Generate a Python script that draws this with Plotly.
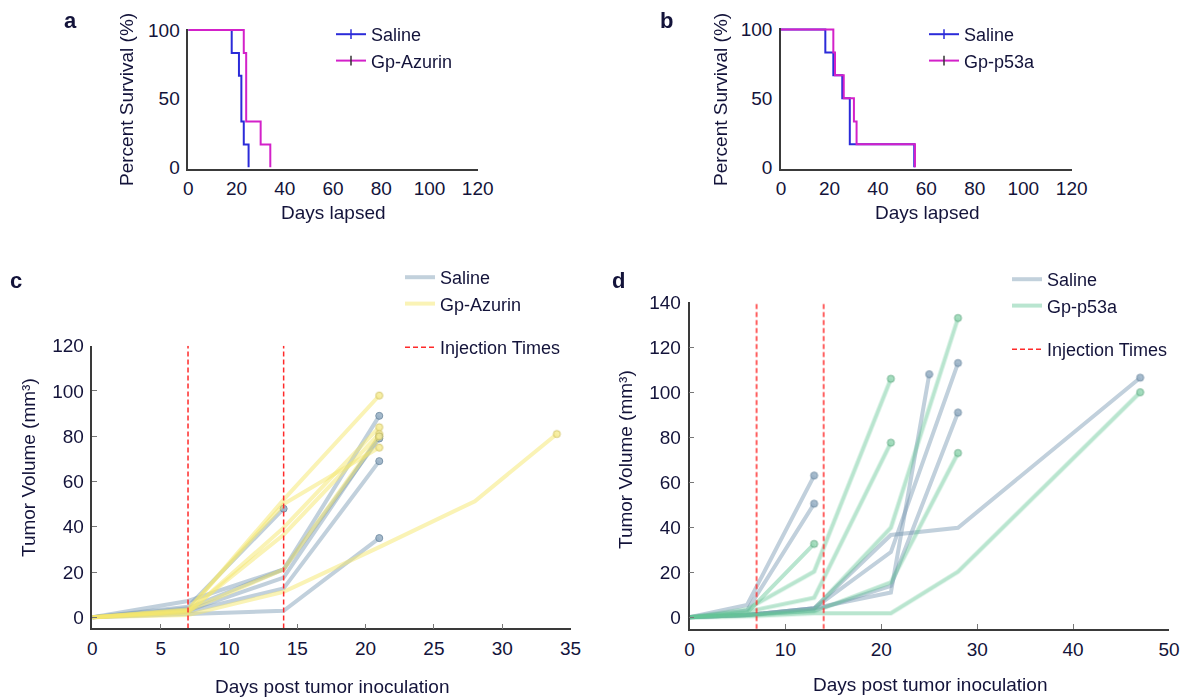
import plotly.graph_objects as go

# ---------------- Data ----------------
# Panel a: Kaplan-Meier survival (Saline vs Gp-Azurin)
a_saline_days = [0, 18, 21, 22, 23, 25]
a_saline_surv = [100, 83.3, 66.7, 33.3, 16.7, 0]
a_azurin_days = [0, 23, 24, 30, 34]
a_azurin_surv = [100, 83.3, 33.3, 16.7, 0]

# Panel b: Kaplan-Meier survival (Saline vs Gp-p53a)
b_saline_days = [0, 18.3, 21.6, 25.3, 28.4, 55]
b_saline_surv = [100, 83.3, 66.7, 50, 16.7, 0]
b_p53a_days = [0, 21.6, 22.3, 25.9, 30.1, 31.2, 55.3]
b_p53a_surv = [100, 83.3, 66.7, 50, 33.3, 16.7, 0]

surv_yticks = [0, 50, 100]
surv_xticks = [0, 20, 40, 60, 80, 100, 120]

# Panel c: tumor volume, Saline vs Gp-Azurin (one list per mouse)
c_saline_days = [[0, 7, 14], [0, 7, 14, 21], [0, 7, 14, 21],
                 [0, 7, 14, 21], [0, 7, 14, 21], [0, 7, 14, 21]]
c_saline_vol = [[0, 4.7, 48], [0, 1.5, 2.9, 35], [0, 7.2, 21.2, 89],
                [0, 3, 17.5, 80], [0, 2.5, 12.8, 69], [0, 4, 21.2, 79]]
c_azurin_days = [[0, 7, 14, 21], [0, 7, 14, 21], [0, 7, 14, 21],
                 [0, 7, 14, 21], [0, 7, 14, 21], [0, 7, 14, 21, 28, 34]]
c_azurin_vol = [[0, 3, 52, 98], [0, 3.5, 50, 75], [0, 2, 39.6, 84],
                [0, 2.5, 36.5, 81], [0, 3, 21.2, 80], [0, 1, 11.3, 31, 51.3, 81]]
c_injection_days = [7, 14]
c_xticks = [0, 5, 10, 15, 20, 25, 30, 35]
c_yticks = [0, 20, 40, 60, 80, 100, 120]

# Panel d: tumor volume, Saline vs Gp-p53a
d_saline_days = [[0, 6, 13], [0, 6, 13], [0, 6, 13, 21, 25],
                 [0, 6, 13, 21, 28], [0, 6, 13, 21, 28], [0, 6, 13, 21, 28, 47]]
d_saline_vol = [[0, 5.5, 63], [0, 3, 50.5], [0, 1, 4, 11, 108],
                [0, 1, 4, 29, 113], [0, 1, 3, 14, 91], [0, 1, 4, 36.6, 39.8, 106.5]]
d_p53a_days = [[0, 6, 13], [0, 6, 13, 21], [0, 6, 13, 21],
               [0, 6, 13, 21, 28], [0, 6, 13, 21, 28], [0, 6, 13, 21, 28, 47]]
d_p53a_vol = [[0, 2, 32.6], [0, 3.6, 20.3, 106], [0, 2.5, 8.7, 77.6],
              [0, 1, 3.5, 39.8, 133], [0, 1, 2.5, 15.5, 73], [0, 0.5, 1.8, 1.8, 20.3, 100]]
d_injection_days = [7, 14]
d_xticks = [0, 10, 20, 30, 40, 50]
d_yticks = [0, 20, 40, 60, 80, 100, 120, 140]

# ---------------- Style ----------------
FONT = "Liberation Sans"
TXT = "#13133a"
BLUE = "#2b2bd9"
MAGENTA = "#d321c9"
SAL = "rgb(120,152,178)"
SAL_M = "rgb(150,175,196)"
SAL_ML = "rgb(100,130,155)"
YEL = "rgb(246,232,110)"
YEL_M = "rgb(246,236,150)"
YEL_ML = "rgb(205,190,90)"
GRN = "rgb(100,198,150)"
GRN_M = "rgb(150,215,180)"
GRN_ML = "rgb(90,165,125)"
RED = "#ff2a2a"

fig = go.Figure()


def km(days, surv, color, name, xa, ya, legend, tickcolor):
    fig.add_trace(go.Scatter(x=days, y=surv, mode="lines", line=dict(color=color, width=2, shape="hv"),
                             xaxis=xa, yaxis=ya, showlegend=False, hoverinfo="skip"))
    fig.add_trace(go.Scatter(x=[None], y=[None], mode="lines+markers", name=name,
                             line=dict(color=color, width=2),
                             marker=dict(symbol="line-ns", size=7,
                                         line=dict(color=tickcolor, width=1.5)),
                             xaxis=xa, yaxis=ya, legend=legend))


km(a_saline_days, a_saline_surv, BLUE, "Saline", "x", "y", "legend", BLUE)
km(a_azurin_days, a_azurin_surv, MAGENTA, "Gp-Azurin", "x", "y", "legend", "#333333")
km(b_saline_days, b_saline_surv, BLUE, "Saline", "x2", "y2", "legend2", BLUE)
km(b_p53a_days, b_p53a_surv, MAGENTA, "Gp-p53a", "x2", "y2", "legend2", "#333333")


def mice(days_list, vol_list, color, mcol, mline, name, xa, ya, legend, op):
    for dd, vv in zip(days_list, vol_list):
        fig.add_trace(go.Scatter(x=dd, y=vv, mode="lines", line=dict(color=color, width=4),
                                 opacity=op, xaxis=xa, yaxis=ya, showlegend=False,
                                 hoverinfo="skip"))
    fig.add_trace(go.Scatter(x=[d[-1] for d in days_list], y=[v[-1] for v in vol_list],
                             mode="markers", cliponaxis=False,
                             marker=dict(color=mcol, size=7, line=dict(color=mline, width=1)),
                             opacity=0.85, xaxis=xa, yaxis=ya, showlegend=False,
                             hoverinfo="skip"))
    fig.add_trace(go.Scatter(x=[None], y=[None], mode="lines", name=name,
                             line=dict(color=color, width=4), opacity=op,
                             xaxis=xa, yaxis=ya, legend=legend))


def injections(days, ymin, ymax, xa, ya, legend):
    xs, ys = [], []
    for d in days:
        xs += [d, d, None]
        ys += [ymin, ymax, None]
    fig.add_trace(go.Scatter(x=xs, y=ys, mode="lines", name="Injection Times",
                             line=dict(color=RED, width=1.5, dash="5px,3px"),
                             xaxis=xa, yaxis=ya, legend=legend, hoverinfo="skip"))


mice(c_saline_days, c_saline_vol, SAL, SAL_M, SAL_ML, "Saline", "x3", "y3", "legend3", 0.45)
mice(c_azurin_days, c_azurin_vol, YEL, YEL_M, YEL_ML, "Gp-Azurin", "x3", "y3", "legend3", 0.5)
injections(c_injection_days, -4.9, 120, "x3", "y3", "legend4")

mice(d_saline_days, d_saline_vol, SAL, SAL_M, SAL_ML, "Saline", "x4", "y4", "legend5", 0.45)
mice(d_p53a_days, d_p53a_vol, GRN, GRN_M, GRN_ML, "Gp-p53a", "x4", "y4", "legend5", 0.45)
injections(d_injection_days, -5.2, 141.5, "x4", "y4", "legend6")

# page body adds an 8px offset; size the figure to fit and shift coordinates
OFF = 8
W, H = 1188 - OFF, 698 - OFF


def px(v):
    return (v - OFF) / W


def py(v):
    return 1 - (v - OFF) / H


tickfont = dict(family=FONT, size=19, color=TXT)
axline = dict(showline=True, linecolor="#3a3a3a", linewidth=1.5, showgrid=False, zeroline=False,
              tickfont=tickfont, mirror=False, automargin=False)

fig.update_layout(
    width=W, height=H, margin=dict(l=0, r=0, t=0, b=0, autoexpand=False),
    plot_bgcolor="white", paper_bgcolor="white",
    font=dict(family=FONT, color=TXT, size=17),
    xaxis=dict(domain=[px(188.3), px(477.7)], range=[0, 120], tickvals=surv_xticks,
               anchor="y", ticks="", ticklabelstandoff=2, **axline),
    yaxis=dict(domain=[py(168.7), py(28.6)], range=[-1, 101], tickvals=surv_yticks,
               anchor="x", ticks="", ticklabelstandoff=3, **axline),
    xaxis2=dict(domain=[px(781), px(1071.7)], range=[0, 120], tickvals=surv_xticks,
                anchor="y2", ticks="", ticklabelstandoff=2, **axline),
    yaxis2=dict(domain=[py(168.7), py(28)], range=[-1, 101], tickvals=surv_yticks,
                anchor="x2", ticks="", ticklabelstandoff=3, **axline),
    xaxis3=dict(domain=[px(92.4), px(570.5)], range=[0, 35], tickvals=c_xticks, anchor="y3",
                ticks="inside", ticklen=5, tickcolor="#777777", tickwidth=1,
                ticklabelstandoff=2, **axline),
    yaxis3=dict(domain=[py(628.4), py(345.7)], range=[-4.9, 120], tickvals=c_yticks,
                anchor="x3", ticks="inside", ticklen=5, tickcolor="#777777", tickwidth=1,
                ticklabelstandoff=3, **axline),
    xaxis4=dict(domain=[px(689.5), px(1169)], range=[0, 50], tickvals=d_xticks, anchor="y4",
                ticks="inside", ticklen=5, tickcolor="#777777", tickwidth=1,
                ticklabelstandoff=2, **axline),
    yaxis4=dict(domain=[py(629), py(302.3)], range=[-5.2, 140], tickvals=d_yticks,
                anchor="x4", ticks="inside", ticklen=5, tickcolor="#777777", tickwidth=1,
                ticklabelstandoff=3, **axline),
)

leg = dict(bgcolor="rgba(0,0,0,0)", borderwidth=0, itemwidth=30, xanchor="left", yanchor="top",
           font=dict(family=FONT, size=18, color=TXT), tracegroupgap=0)
fig.update_layout(
    legend=dict(x=px(331), y=py(16), **leg),
    legend2=dict(x=px(924), y=py(16), **leg),
    legend3=dict(x=px(400), y=py(259), **leg),
    legend4=dict(x=px(400), y=py(329), **leg),
    legend5=dict(x=px(1007), y=py(261), **leg),
    legend6=dict(x=px(1007), y=py(331), **leg),
)

ann = []


def text(x, y, s, size=19, angle=0, bold=False):
    ann.append(dict(x=px(x), y=py(y), xref="paper", yref="paper", text=f"<b>{s}</b>" if bold else s,
                    showarrow=False, textangle=angle, xanchor="center", yanchor="middle",
                    font=dict(family=FONT, size=size, color=TXT)))


text(70, 20, "a", 22, bold=True)
text(666, 20, "b", 22, bold=True)
text(16, 280, "c", 22, bold=True)
text(618, 280, "d", 22, bold=True)
text(333, 212, "Days lapsed")
text(927, 212, "Days lapsed")
text(127, 100, "Percent Survival (%)", angle=-90)
text(721, 100, "Percent Survival (%)", angle=-90)
text(28, 468, "Tumor Volume (mm³)", angle=-90)
text(332, 686, "Days post tumor inoculation")
text(626, 460, "Tumor Volume (mm³)", angle=-90)
text(930, 684, "Days post tumor inoculation")
fig.update_layout(annotations=ann)

fig.write_html("out.html")
